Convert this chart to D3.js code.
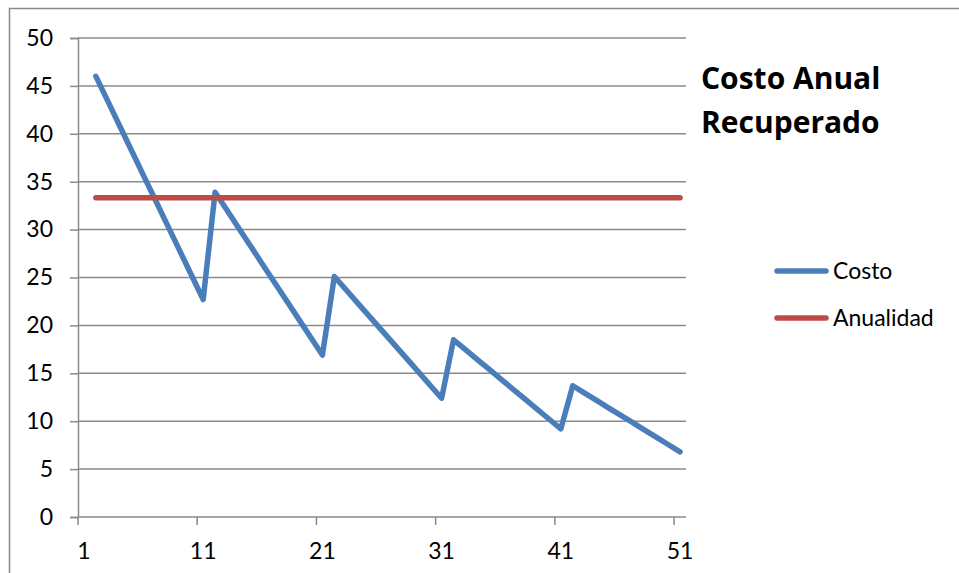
<!DOCTYPE html>
<html>
<head>
<meta charset="utf-8">
<script src="https://cdn.jsdelivr.net/npm/d3@7"></script>
<style>
  html, body { margin: 0; padding: 0; background: #fff; }
  svg { display: block; }
  text { font-family: Lato, "Open Sans", sans-serif; fill: #000; }
</style>
</head>
<body>
<svg id="chart" width="959" height="573"></svg>
<script>
// Categories 1..51 (period number)
const categories = d3.range(1, 52);
const tickLabels = [1, 11, 21, 31, 41, 51];
const yTicks = [0, 5, 10, 15, 20, 25, 30, 35, 40, 45, 50];

// Costo: no value for period 1, then periods 2..51
const costo = [null,
  46.0, 43.41, 40.82, 38.23, 35.64, 33.06, 30.47, 27.88, 25.29, 22.7,
  33.9, 32.01, 30.12, 28.23, 26.34, 24.46, 22.57, 20.68, 18.79, 16.9,
  25.1, 23.69, 22.28, 20.87, 19.46, 18.04, 16.63, 15.22, 13.81, 12.4,
  18.5, 17.47, 16.43, 15.4, 14.37, 13.33, 12.3, 11.27, 10.23, 9.2,
  13.7, 12.93, 12.17, 11.4, 10.63, 9.87, 9.1, 8.33, 7.57, 6.8];

// Anualidad: constant annual payment from period 2 on
const anualidad = [null].concat(d3.range(2, 52).map(() => 33.33));

const seriesNames = ["Costo", "Anualidad"];
const seriesColors = ["#4A7EBB", "#BE4B48"];
const titleLines = ["Costo Anual", "Recuperado"];

const svg = d3.select("#chart");

// Outer chart frame (continues past the right and bottom edges)
svg.append("rect")
  .attr("x", 9.5).attr("y", 8.5)
  .attr("width", 1000).attr("height", 600)
  .attr("fill", "none").attr("stroke", "#898989").attr("stroke-width", 1.5);

const plot = { left: 78, right: 686, top: 38, bottom: 517 };

// Category band scale: ticks on band boundaries, points at band centres
const x = d3.scaleBand().domain(categories).range([plot.left, plot.right]).paddingInner(0).paddingOuter(0);
const y = d3.scaleLinear().domain([0, 50]).range([plot.bottom, plot.top]);
const cx = c => x(c) + x.bandwidth() / 2;

// Horizontal gridlines
svg.append("g").selectAll("line").data(yTicks.filter(t => t > 0)).join("line")
  .attr("x1", plot.left).attr("x2", plot.right)
  .attr("y1", d => y(d)).attr("y2", d => y(d))
  .attr("stroke", "#8a8a8a").attr("stroke-width", 1.5);

// Y axis
const yAxis = d3.axisLeft(y).tickValues(yTicks).tickSize(8).tickPadding(17);
const gy = svg.append("g").attr("transform", `translate(${plot.left},0)`).call(yAxis);
gy.select(".domain").attr("stroke", "#8a8a8a").attr("stroke-width", 1.5);
gy.selectAll(".tick line").attr("stroke", "#8a8a8a").attr("stroke-width", 1.5);
gy.selectAll(".tick text").style("font-size", "23px").style("font-family", "Lato, 'Open Sans', sans-serif").attr("fill", "#000");

// X axis: tick marks at the left boundary of each labelled category
const xAxisG = svg.append("g");
xAxisG.append("line")
  .attr("x1", plot.left).attr("x2", plot.right)
  .attr("y1", plot.bottom).attr("y2", plot.bottom)
  .attr("stroke", "#8a8a8a").attr("stroke-width", 1.5);
xAxisG.selectAll("line.tk").data(tickLabels).join("line").attr("class", "tk")
  .attr("x1", d => x(d)).attr("x2", d => x(d))
  .attr("y1", plot.bottom).attr("y2", plot.bottom + 8)
  .attr("stroke", "#8a8a8a").attr("stroke-width", 1.5);
xAxisG.selectAll("text").data(tickLabels).join("text")
  .attr("x", d => cx(d)).attr("y", plot.bottom + 42)
  .attr("text-anchor", "middle")
  .style("font-size", "23px")
  .text(d => d);

// Series lines
const line = d3.line()
  .defined(d => d.v != null)
  .x(d => cx(d.c))
  .y(d => y(d.v));

[costo, anualidad].forEach((vals, i) => {
  const data = categories.map((c, k) => ({ c, v: vals[k] }));
  svg.append("path")
    .datum(data)
    .attr("d", line)
    .attr("fill", "none")
    .attr("stroke", seriesColors[i])
    .attr("stroke-width", 5.5)
    .attr("stroke-linejoin", "round")
    .attr("stroke-linecap", "round");
});

// Title
svg.append("text")
  .attr("x", 701).attr("y", 89)
  .style("font-size", "30px").style("font-weight", "bold")
  .style("font-family", "'Open Sans', Lato, sans-serif")
  .selectAll("tspan").data(titleLines).join("tspan")
  .attr("x", 701).attr("dy", (d, i) => i === 0 ? 0 : 44)
  .text(d => d);

// Legend
const legend = svg.append("g");
seriesNames.forEach((name, i) => {
  const ly = 271 + i * 47;
  legend.append("line")
    .attr("x1", 777).attr("x2", 826)
    .attr("y1", ly).attr("y2", ly)
    .attr("stroke", seriesColors[i]).attr("stroke-width", 5.5)
    .attr("stroke-linecap", "round");
  legend.append("text")
    .attr("x", 833).attr("y", ly + 8)
    .style("font-size", "23px")
    .text(name);
});
</script>
</body>
</html>
